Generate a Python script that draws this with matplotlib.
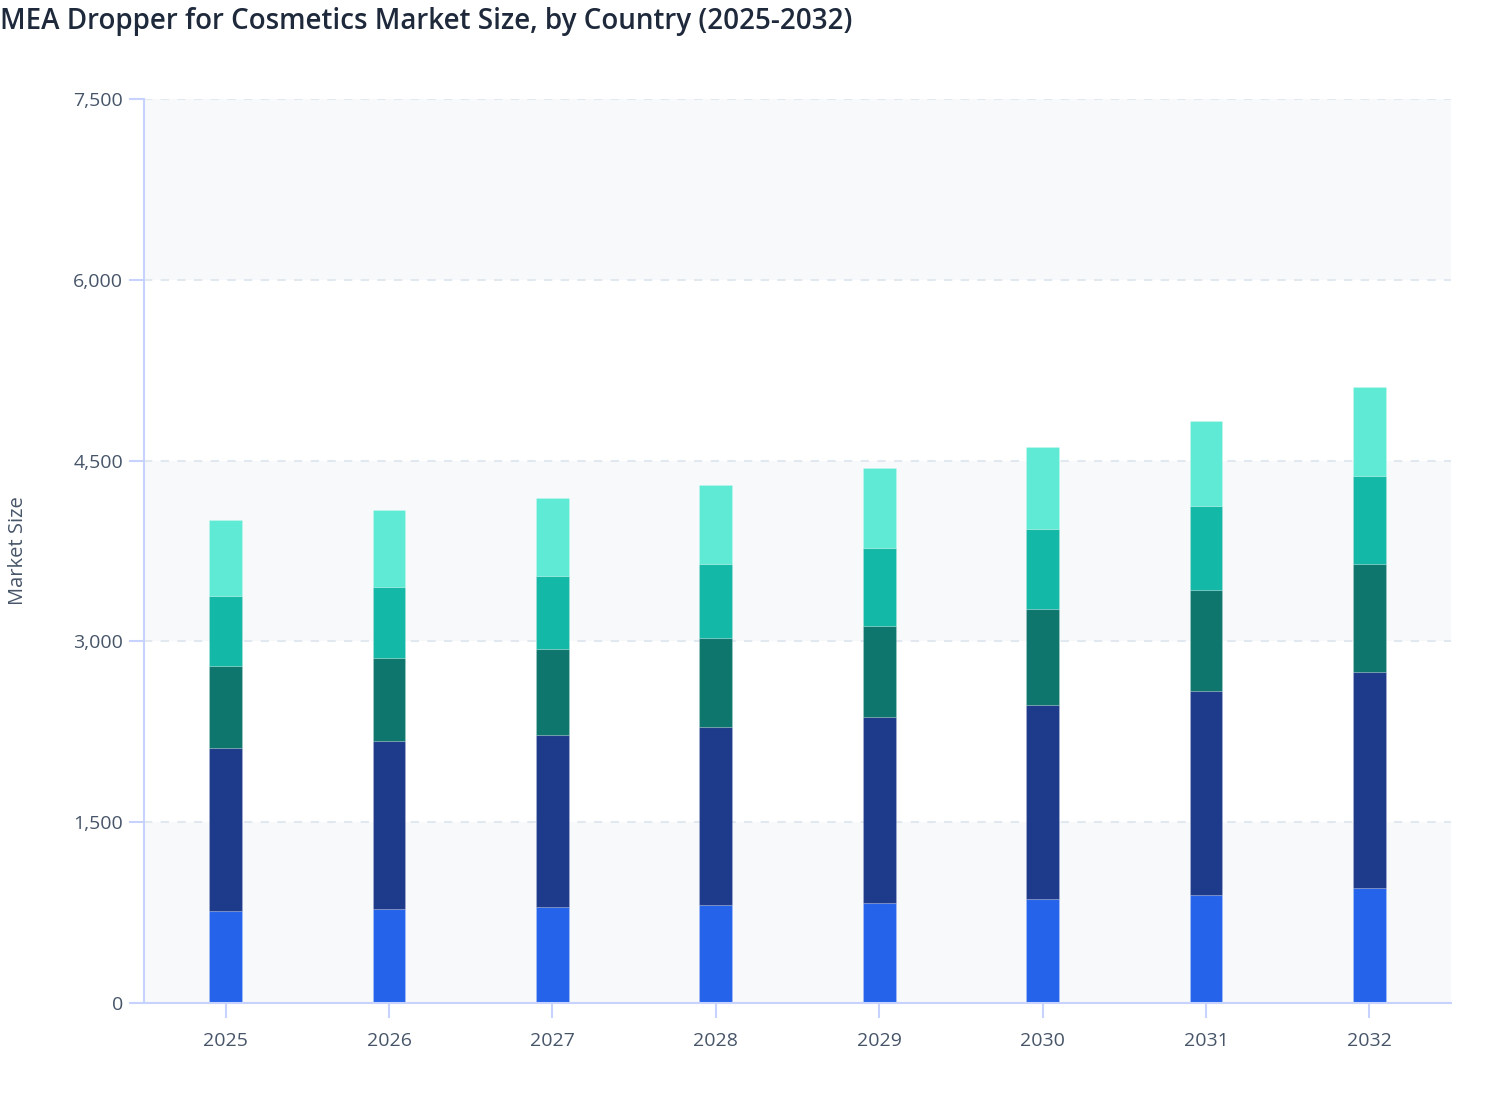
"""MEA dropper for cosmetics market size, stacked by country."""

import matplotlib
matplotlib.use("Agg")
import matplotlib.pyplot as plt
import numpy as np
from matplotlib.ticker import FuncFormatter

years = ["2025", "2026", "2027", "2028", "2029", "2030", "2031", "2032"]

# stacked segments, bottom to top
country_a = [763, 780, 796, 813, 830, 863, 896, 954]
country_b = [1352, 1394, 1427, 1477, 1543, 1609, 1692, 1792]
country_c = [681, 688, 714, 738, 755, 797, 838, 896]
country_d = [581, 589, 605, 614, 647, 663, 697, 730]
country_e = [630, 639, 647, 655, 663, 681, 705, 738]

series = [country_a, country_b, country_c, country_d, country_e]
colors = ["#2563EB", "#1E3A8A", "#0F766E", "#14B8A6", "#5EEAD4"]

y_ticks = [0, 1500, 3000, 4500, 6000, 7500]

plt.rcParams["font.family"] = ["Open Sans", "Noto Sans", "DejaVu Sans"]

fig = plt.figure(figsize=(15.08, 11.2), dpi=100)
ax = fig.add_axes([0.0955, 0.1045, 0.8667, 0.8071])

axis_col = "#C7D2FE"
text_col = "#475569"

# alternating background bands
for i in range(0, len(y_ticks) - 1, 2):
    ax.axhspan(y_ticks[i], y_ticks[i + 1], color="#F8F9FB", zorder=0, lw=0)

for t in y_ticks[1:]:
    ax.axhline(t, color="#E2E8F0", lw=1.5, ls=(0, (4, 4)), zorder=1)

x = np.arange(len(years))
bottom = np.zeros(len(years))
for vals, col in zip(series, colors):
    ax.bar(x, vals, width=0.2, bottom=bottom, color=col,
           edgecolor=(1, 1, 1, 0.15), linewidth=0.8, zorder=2)
    bottom += np.array(vals)

ax.set_xlim(-0.5, len(years) - 0.5)
ax.set_ylim(0, 7500)
ax.set_xticks(x)
ax.set_xticklabels(years)
ax.set_yticks(y_ticks)
ax.yaxis.set_major_formatter(FuncFormatter(lambda v, p: f"{int(v):,}"))

for side in ["top", "right"]:
    ax.spines[side].set_visible(False)
for side in ["left", "bottom"]:
    ax.spines[side].set_color(axis_col)
    ax.spines[side].set_linewidth(1.5)

ax.tick_params(axis="both", colors=axis_col, width=1.5, length=11,
               labelcolor=text_col, labelsize=14)
ax.tick_params(axis="x", pad=10)
ax.tick_params(axis="y", pad=4)

ax.set_ylabel("Market Size", color=text_col, fontsize=14.5)
ax.yaxis.set_label_coords(-0.089, 0.5)

fig.text(0.0, 0.981, "MEA Dropper for Cosmetics Market Size, by Country (2025-2032)",
         ha="left", va="center", fontsize=20, fontweight="semibold",
         color="#1E293B")

fig.savefig("out.png", dpi=100, facecolor="white")
